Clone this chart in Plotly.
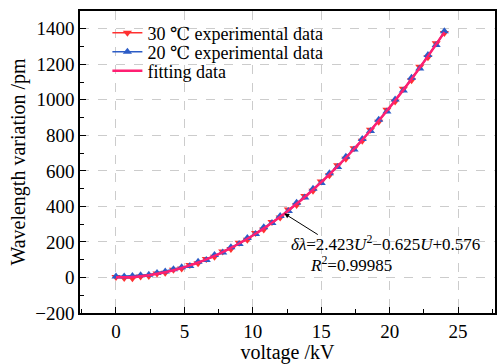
import plotly.graph_objects as go

# voltage (kV)
voltage = [0.0, 0.6, 1.2, 1.8, 2.4, 3.0, 3.6, 4.2, 4.8, 5.4, 6.0, 6.6, 7.2, 7.8, 8.4, 9.0,
           9.6, 10.2, 10.8, 11.4, 12.0, 12.6, 13.2, 13.8, 14.4, 15.0, 15.6, 16.2, 16.8, 17.4,
           18.0, 18.6, 19.2, 19.8, 20.4, 21.0, 21.6, 22.2, 22.8, 23.4, 24.0]

# 30 ℃ experimental data (pm)
exp30 = [2, -3, -4, 6, 8, 22, 26, 44, 50, 70, 80, 104, 117, 146, 160, 196,
         212, 250, 270, 312, 338, 382, 408, 458, 488, 540, 576, 632, 668, 728,
         770, 832, 876, 944, 990, 1062, 1110, 1186, 1240, 1318, 1376]

# 20 ℃ experimental data (pm)
exp20 = [5, 6, 8, 12, 16, 25, 33, 46, 57, 64, 88, 98, 126, 140, 170, 188,
         222, 244, 282, 306, 346, 374, 420, 450, 500, 532, 586, 622, 680, 720,
         780, 824, 888, 934, 1002, 1052, 1124, 1176, 1252, 1308, 1386]

# fitting data (pm)
fit_y = [0.58, 1.07, 3.32, 7.30, 13.03, 20.51, 29.73, 40.69, 53.40, 67.86, 84.05, 102.0,
         121.68, 143.12, 166.29, 191.21, 217.88, 246.29, 276.45, 308.34, 341.99, 377.38,
         414.51, 453.39, 494.01, 536.38, 580.49, 626.34, 673.94, 723.29, 774.38, 827.21,
         881.79, 938.11, 996.18, 1055.99, 1117.55, 1180.85, 1245.90, 1312.69, 1381.22]

RED = "#ff3131"
BLUE = "#2c5cc6"
PINK = "#ff1f72"
FONT = "'Liberation Serif', 'DejaVu Serif', 'Times New Roman', Times, serif"

fig = go.Figure()
fig.add_trace(go.Scatter(
    x=voltage, y=exp30, mode="lines+markers", name="30 ℃ experimental data",
    line=dict(color=RED, width=1.5), legend="legend",
    marker=dict(symbol="triangle-down", size=8, color=RED)))
fig.add_trace(go.Scatter(
    x=voltage, y=exp20, mode="lines+markers", name="20 ℃ experimental data",
    line=dict(color=BLUE, width=1.5), legend="legend2",
    marker=dict(symbol="triangle-up", size=8, color=BLUE)))
fig.add_trace(go.Scatter(
    x=voltage, y=fit_y, mode="lines", name="fitting data", legend="legend3",
    line=dict(color=PINK, width=2.5, shape="spline")))

fig.add_annotation(x=12.3, y=360, ax=35, ay=22, axref="pixel", ayref="pixel",
                   text="", showarrow=True, arrowhead=2, arrowsize=1,
                   arrowwidth=1, arrowcolor="black")
fig.add_annotation(x=19.7, y=194, showarrow=False,
                   text="<i>δλ</i>=2.423<i>U</i><sup>2</sup>−0.625<i>U</i>+0.576",
                   font=dict(family=FONT, size=17, color="black"))
fig.add_annotation(x=17.2, y=78, showarrow=False,
                   text="<i>R</i><sup>2</sup>=0.99985",
                   font=dict(family=FONT, size=17, color="black"))

axis_common = dict(
    showline=True, linecolor="black", linewidth=1.5, mirror=True,
    ticks="inside", ticklen=6, tickwidth=1.2, tickcolor="black",
    showgrid=True, gridcolor="#cccccc", griddash="dash", gridwidth=1,
    zeroline=False, automargin=False,
    tickfont=dict(family=FONT, size=19, color="black"),
)

fig.update_xaxes(range=[-2.63, 27.7], dtick=5, tick0=0,
                 minor=dict(dtick=2.5, ticks="inside", ticklen=4, tickcolor="black", showgrid=False),
                 title=dict(text="voltage /kV", font=dict(family=FONT, size=20, color="black"), standoff=2),
                 **axis_common)
fig.update_yaxes(range=[-200, 1500], dtick=200, tick0=0,
                 minor=dict(dtick=100, ticks="inside", ticklen=4, tickcolor="black", showgrid=False),
                 title=dict(text="Wavelength variation /pm", font=dict(family=FONT, size=20, color="black"), standoff=4),
                 **axis_common)

legend_common = dict(x=0.066, xanchor="left", yanchor="middle",
                     bgcolor="rgba(0,0,0,0)", font=dict(family=FONT, size=18, color="black"),
                     itemwidth=30)

fig.update_layout(
    width=497, height=364,
    margin=dict(l=80, r=2, t=11, b=51),
    plot_bgcolor="white", paper_bgcolor="white",
    showlegend=True,
    legend=dict(y=0.927, **legend_common),
    legend2=dict(y=0.864, **legend_common),
    legend3=dict(y=0.801, **legend_common),
)

fig.write_html("out.html", config={"displayModeBar": False},
               post_script="document.body.style.margin='0px';")
